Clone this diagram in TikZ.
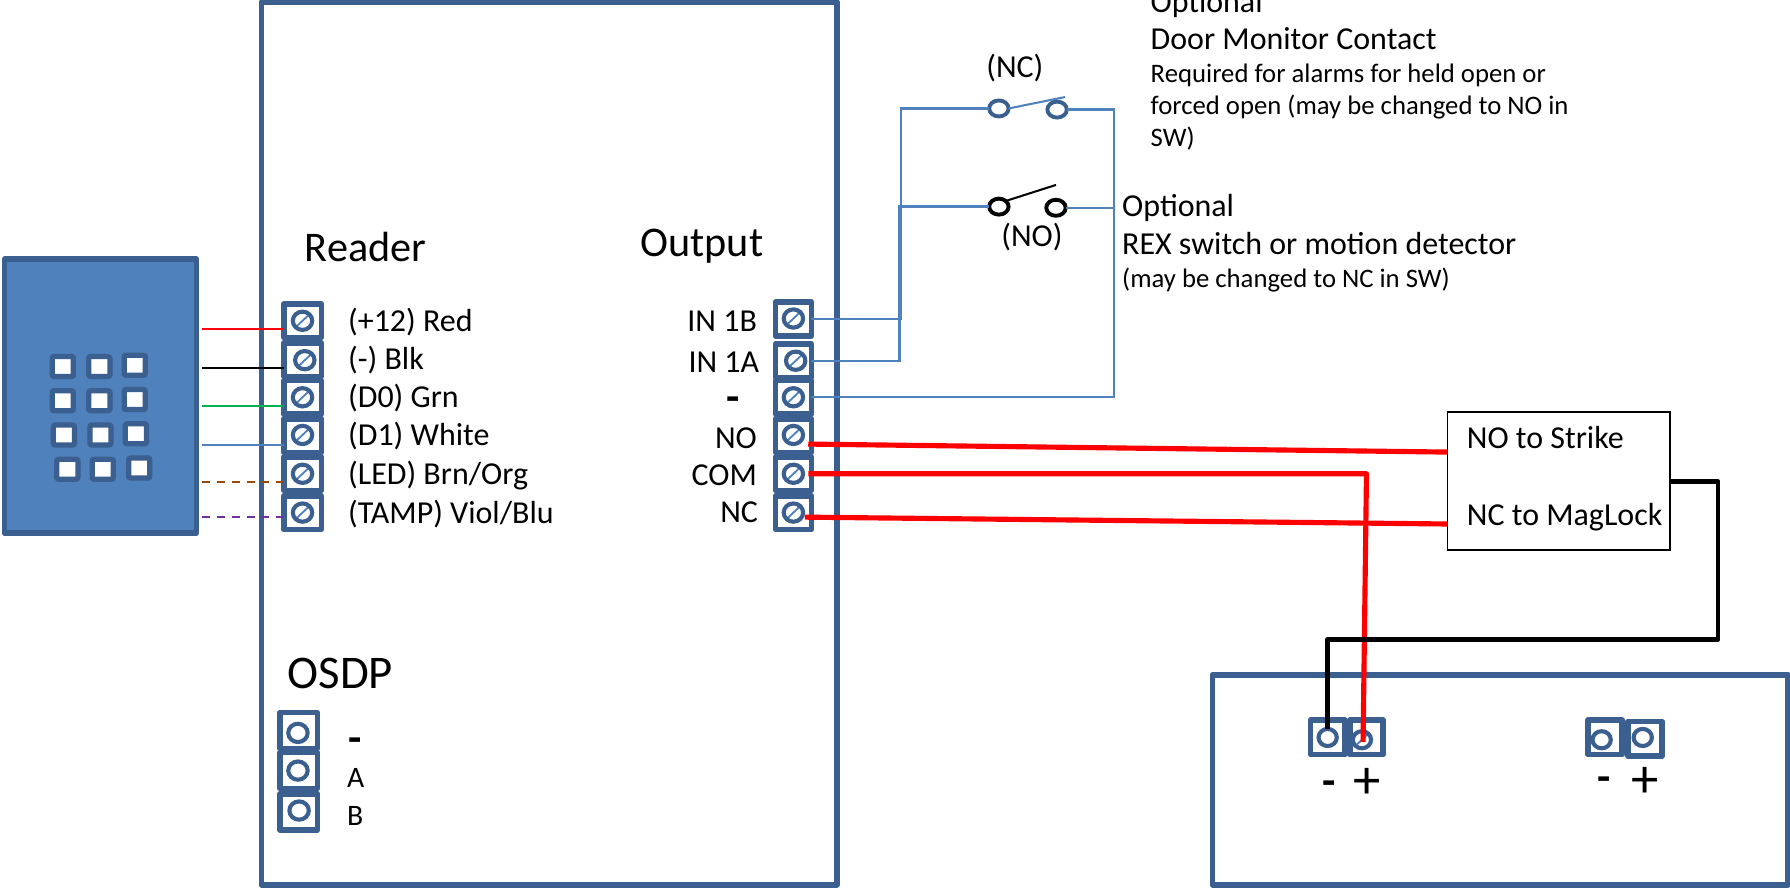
\documentclass[tikz,border=0pt]{standalone}
\usepackage{fontspec}
\setmainfont{Carlito}
\usetikzlibrary{shapes.geometric}
\definecolor{bd}{HTML}{3B6090}
\definecolor{bf}{HTML}{4F81BD}
\definecolor{brn}{HTML}{984807}
\definecolor{vio}{HTML}{7030A0}
\definecolor{grn}{HTML}{00B050}
\newcommand{\fs}[1]{\fontsize{#1}{#1}\selectfont}
\tikzset{
 x=1pt,y=-1pt,
 frame/.style={draw=bd,line width=5pt,line join=round,fill=none,inner sep=0,outer sep=0},
 cell/.style={draw=bd,line width=5pt,line join=round,fill=white,inner sep=0,outer sep=0,minimum width=33pt,minimum height=29.5pt},
 hcell/.style={cell,minimum width=29pt,minimum height=29pt},
 screw/.style={ellipse,draw=bd,line width=3.6pt,fill=white,inner sep=0,outer sep=0,minimum width=17pt,minimum height=16pt},
 sscrew/.style={screw,path picture={\draw[bf,line width=1.6pt] (path picture bounding box.south west)--(path picture bounding box.north east);}},
 key/.style={draw=bd,line width=4.6pt,line join=round,rounded corners=1pt,fill=white,inner sep=0,outer sep=0,minimum width=18.5pt,minimum height=17.5pt},
 sw/.style={ellipse,line width=3.4pt,fill=white,inner sep=0,outer sep=0,minimum width=17pt,minimum height=14pt},
 lab/.style={inner sep=0,outer sep=0,anchor=base west,font=\fs{28}},
 rlab/.style={inner sep=0,outer sep=0,anchor=base east,font=\fs{28}},
 big/.style={inner sep=0,outer sep=0,anchor=base west,font=\fs{37}},
 small/.style={inner sep=0,outer sep=0,anchor=base west,font=\fs{23.4}},
 sgn/.style={inner sep=0,outer sep=0,font=\bfseries\fs{38}},
 plus/.style={inner sep=0,outer sep=0,font=\fs{48}},
 thinw/.style={line width=1.9pt},
 bw/.style={bf,line width=2pt,line join=miter},
 redw/.style={red,line width=4.5pt,line join=round},
 blkw/.style={black,line width=4pt,line join=round},
}
\begin{document}
\begin{tikzpicture}
\useasboundingbox (0,0) rectangle (1568,777);
% enclosures
\draw[frame] (229,2) rectangle (733,775);
\draw[frame] (1062,591) rectangle (1566,775);
\node[frame,fill=bf,minimum width=168pt,minimum height=240pt] (kp) at (88,347) {};
% keypad keys
\foreach \n/\px/\py in {a/55/321,b/87/321,c/118/320,d/55/351,e/87/351,f/118/350,g/56/381,h/88/381,i/119/380,j/59/411,k/90/411,l/122/410}
  \node[key] (key\n) at (\px,\py) {};
% reader terminal
\foreach \n/\py in {1/281,2/315,3/348,4/381.5,5/415,6/449}
  \node[cell,minimum height=29.5pt] (r\n) at (265,\py) {};
\foreach \n/\px/\py in {1/265/281,2/267/315.5,3/265/348,4/265/381,5/265/415,6/265/449}
  \node[sscrew] (rs\n) at (\px,\py) {};
% output terminal
\foreach \n/\px/\py in {1/695/279.5,2/695/316,3/695/348,4/695/381.5,5/695/415,6/695/449}
  \node[cell,minimum width=31.5pt,minimum height=29.5pt] (o\n) at (\px,\py) {};
\foreach \n/\px/\py in {1/695/279,2/697/316,3/695/348,4/695/381,5/695/415,6/695/449}
  \node[sscrew] (os\n) at (\px,\py) {};
% OSDP terminal
\foreach \n/\py in {1/640,2/675,3/711}
  \node[cell,minimum height=31.5pt] (d\n) at (261.5,\py) {};
\node[screw] (ds1) at (261,642) {};
\node[screw] (ds2) at (261,675) {};
\node[screw] (ds3) at (262,710) {};
% power terminals
\node[hcell,minimum width=30pt,minimum height=30pt] (p1) at (1163,646) {};
\node[hcell,minimum width=29pt,minimum height=30pt] (p2) at (1197,646) {};
\node[hcell,minimum width=30pt,minimum height=30pt] (p3) at (1406,646) {};
\node[hcell,minimum width=30pt,minimum height=30pt] (p4) at (1441,647) {};
\node[screw,minimum width=16pt,minimum height=15pt] (ps1) at (1163,646) {};
\node[sscrew,minimum width=16pt,minimum height=15pt] (ps2) at (1193,648) {};
\node[screw,minimum width=16pt,minimum height=15pt] (ps3) at (1403,648) {};
\node[screw,minimum width=16pt,minimum height=15pt] (ps4) at (1439,646) {};
% relay
\node[draw=black,line width=1.4pt,fill=white,inner sep=0,outer sep=0,minimum width=195pt,minimum height=121pt] (rel) at (1365.5,421.5) {};
% reader wires
\coordinate (w1) at (177,288); \coordinate (w2) at (177,322); \coordinate (w3) at (177,356);
\coordinate (w4) at (177,390); \coordinate (w5) at (177,422); \coordinate (w6) at (177,453);
\draw[thinw,red] (w1)--(w1-|r1.west);
\draw[thinw,black] (w2)--(w2-|r1.west);
\draw[thinw,grn] (w3)--(w3-|r1.west);
\draw[thinw,bf] (w4)--(w4-|r1.west);
\draw[thinw,brn,dash pattern=on 7pt off 6pt] (w5)--(w5-|r1.west);
\draw[thinw,vio,dash pattern=on 7pt off 6pt] (w6)--(w6-|r1.west);
% switches
\coordinate (ncb) at (933,85);
\coordinate (nob) at (925,162);
\coordinate (j1) at (789,95);
\coordinate (j2) at (976,96);
\coordinate (j3) at (788,181);
\coordinate (j4) at (976,182);
\node[sw,draw=bd] (nc1) at (875,95) {};
\node[sw,draw=bd] (nc2) at (926,96) {};
\node[sw,draw=black] (no1) at (875,181) {};
\node[sw,draw=black] (no2) at (925,182) {};
\draw[bf,line width=1.8pt] (nc1.east)--(ncb);
\draw[black,line width=1.8pt] (no1.north east)--(nob);
\draw[bw] (o1.east)--(j1|-o1.east)--(j1)--(nc1.west);
\draw[bw] (nc2.east)--(j2)--(j2|-o3.east)--(o3.east);
\draw[bw] (o2.east)--(j3|-o2.east)--(j3)--(no1.west);
\draw[bw] (no2.east)--(j4);
% red / black heavy wires
\coordinate (ra) at (708,389); \coordinate (rb) at (1268,396);
\coordinate (rc) at (708,415); \coordinate (rd) at (1197,415);
\coordinate (re) at (705,453); \coordinate (rf) at (1268,459);
\coordinate (rg) at (1194,650);
\draw[redw] (ra)--(rb);
\draw[redw] (re)--(rf);
\draw[redw] (rc)--(rd)--(rg);
\draw[blkw] (rel.east|-0,422)--(1505,422)--(1505,560)--(1163,560)--(ps1.north);
% texts
\node[big] (tReader) at (267,229) {Reader};
\node[big] (tOutput) at (561,225) {Output};
\node[big,font=\fs{41}] (tOsdp) at (252,603) {OSDP};
\node[lab] (l1) at (305,290) {(+12) Red};
\node[lab] (l2) at (305,324) {(-) Blk};
\node[lab] (l3) at (305,357) {(D0) Grn};
\node[lab] (l4) at (305,390) {(D1) White};
\node[lab] (l5) at (305,424) {(LED) Brn/Org};
\node[lab] (l6) at (305,459) {(TAMP) Viol/Blu};
\node[rlab] (i1) at (663,290) {IN 1B};
\node[rlab] (i2) at (665,326) {IN 1A};
\node[sgn] (i3) at (642,354) {-};
\node[rlab] (i4) at (663,393) {NO};
\node[rlab] (i5) at (663,425) {COM};
\node[rlab] (i6) at (664,458) {NC};
\node[sgn] (a1) at (311,653) {-};
\node[lab,font=\fs{26}] (a2) at (304,690) {A};
\node[lab,font=\fs{26}] (a3) at (304,723) {B};
\node[inner sep=0,font=\fs{28}] (tnc) at (889,60) {(NC)};
\node[inner sep=0,font=\fs{28}] (tno) at (904,208) {(NO)};
\node[lab] (t1) at (1008,11) {Optional};
\node[lab] (t2) at (1008,43) {Door Monitor Contact};
\node[small] (t3) at (1008,72) {Required for alarms for held open or};
\node[small] (t4) at (1008,100) {forced open (may be changed to NO in};
\node[small] (t5) at (1008,128) {SW)};
\node[lab] (u1) at (983,190) {Optional};
\node[lab] (u2) at (983,223) {REX switch or motion detector};
\node[small] (u3) at (983,252) {(may be changed to NC in SW)};
\node[lab] (n1) at (1285,393) {NO to Strike};
\node[lab] (n2) at (1285,460) {NC to MagLock};
\node[sgn] (s1) at (1164,690) {-};
\node[plus] (s2) at (1198,686) {+};
\node[sgn] (s3) at (1405,687) {-};
\node[plus] (s4) at (1441,685) {+};
\end{tikzpicture}
\end{document}
